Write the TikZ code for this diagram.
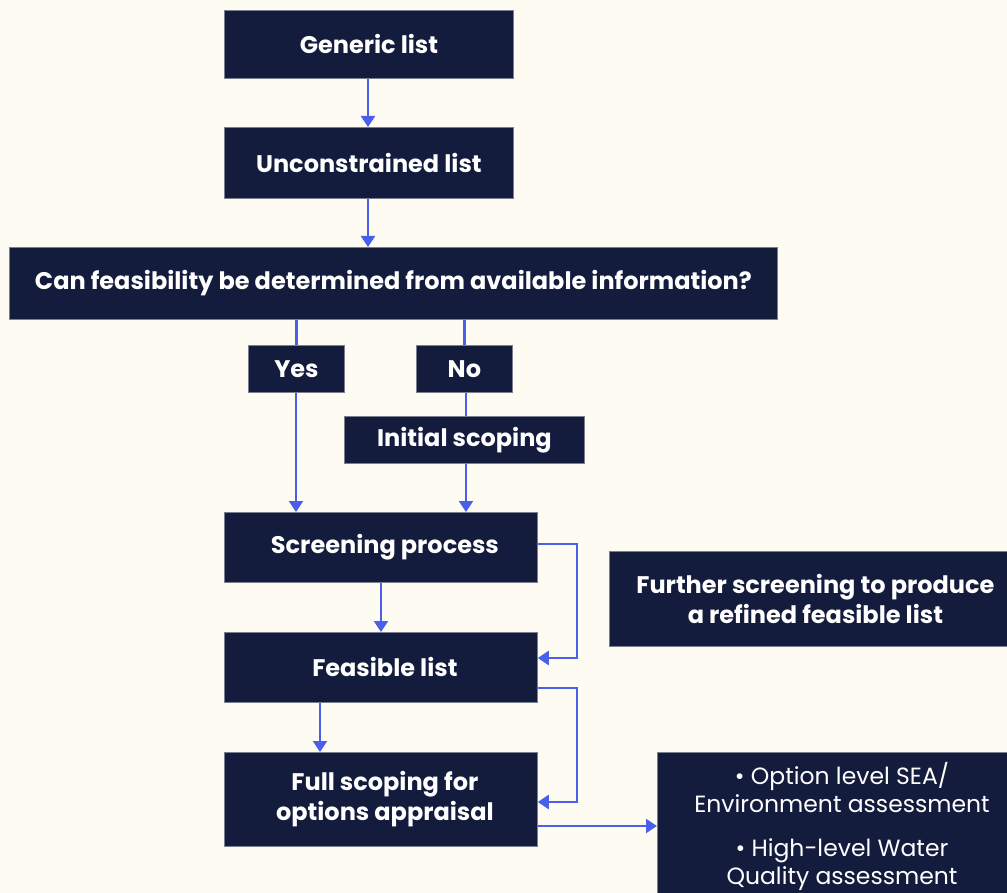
\documentclass[tikz,border=0pt]{standalone}
\usepackage{fontspec}
\setmainfont{Poppins}
\usetikzlibrary{arrows.meta}
\definecolor{navy}{HTML}{141C3E}
\definecolor{bg}{HTML}{FEFBF3}
\definecolor{arr}{HTML}{4A60EA}
\definecolor{edge}{HTML}{7A7E8E}
\tikzset{
  box/.style={draw=edge, line width=0.8pt, fill=navy, text=white, font=\bfseries\fontsize{24}{28}\selectfont, align=center, inner sep=0pt, anchor=north west},
  conn/.style={draw=arr, line width=2.2pt},
  arrw/.style={conn, -{Triangle[length=11pt,width=14pt]}},
}
\begin{document}
\begin{tikzpicture}[x=1pt,y=-1pt]
\fill[bg] (0,0) rectangle (1007,893);
\useasboundingbox (0,0) rectangle (1007,893);
\node[box, minimum width=289pt, minimum height=68pt] (gen) at (224,10) {Generic list};
\node[box, minimum width=289pt, minimum height=71pt] (unc) at (224,127) {Unconstrained list};
\node[box, minimum width=768pt, minimum height=72pt] (q) at (9,247) {Can feasibility be determined from available information?};
\node[box, minimum width=96pt, minimum height=47pt] (yes) at (248,345) {Yes};
\node[box, minimum width=96pt, minimum height=47pt] (no) at (416,345) {No};
\node[box, minimum width=240pt, minimum height=47pt] (init) at (344,416) {Initial scoping};
\node[box, minimum width=313pt, minimum height=70pt] (scr) at (224,512) {\hspace*{8pt}Screening process};
\node[box, minimum width=313pt, minimum height=70pt] (feas) at (224,632) {\hspace*{8pt}Feasible list};
\node[box, minimum width=313pt, minimum height=94pt, font=\bfseries\fontsize{24}{30}\selectfont] (full) at (224,752) {\hspace*{8pt}Full scoping for\\\hspace*{8pt}options appraisal};
\node[box, minimum width=400pt, minimum height=95pt, font=\bfseries\fontsize{24}{30}\selectfont] (fur) at (609,551) {\hspace*{12pt}Further screening to produce\\\hspace*{12pt}a refined feasible list};
\node[box, minimum width=352pt, minimum height=145pt, anchor=north west] (out) at (657,752) {};
\node[text=white, font=\fontsize{23.5}{28.5}\selectfont, align=center, anchor=north, inner sep=0pt] (outtxt) at (842,762) {• Option level SEA/\\Environment assessment\\[15pt]• High-level Water\\Quality assessment};
% connectors
\draw[arrw] (gen.south -| 368,0) -- (unc.north -| 368,0);
\draw[arrw] (unc.south -| 368,0) -- (q.north -| 368,0);
\draw[conn] (q.south -| yes) -- (yes.north);
\draw[conn] (q.south -| no) -- (no.north);
\draw[arrw] (yes.south -| 296,0) -- (scr.north -| 296,0);
\draw[conn] (no.south -| 466,0) -- (init.north -| 466,0);
\draw[arrw] (init.south -| 466,0) -- (scr.north -| 466,0);
\draw[arrw] (scr.south -| 381,0) -- (feas.north -| 381,0);
\draw[arrw] (feas.south -| 320,0) -- (full.north -| 320,0);
\draw[arrw] (scr.east |- 0,544) -- (577,544) -- (577,658) -- (feas.east |- 0,658);
\draw[arrw] (feas.east |- 0,688) -- (577,688) -- (577,802) -- (full.east |- 0,802);
\draw[arrw] (full.east |- 0,826) -- (out.west |- 0,826);
\end{tikzpicture}
\end{document}
